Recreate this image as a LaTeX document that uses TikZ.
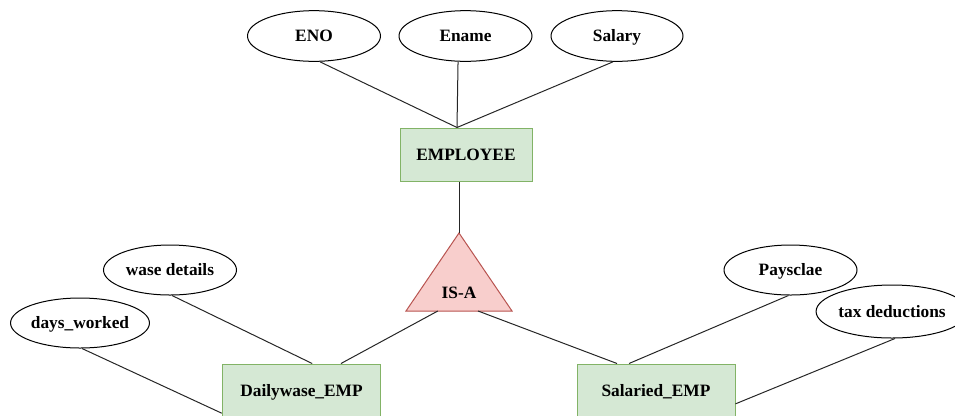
\documentclass[tikz,border=0pt]{standalone}
\usepackage{fontspec}
\setmainfont{Liberation Serif}
\usetikzlibrary{shapes.geometric,calc}
\definecolor{entfill}{HTML}{D5E8D4}
\definecolor{entdraw}{HTML}{82B366}
\definecolor{isafill}{HTML}{F8CECC}
\definecolor{isadraw}{HTML}{B85450}
\tikzset{
  lbl/.style={font=\bfseries\fontsize{13}{15}\selectfont, text height=8.6pt, text depth=0pt},
  attr/.style={lbl, ellipse, draw=black, line width=0.75pt, fill=white,
    minimum width=99.75pt, minimum height=38pt, inner sep=0pt},
  entity/.style={lbl, rectangle, draw=entdraw, fill=entfill, line width=0.75pt,
    minimum height=39.75pt, inner sep=0pt},
  link/.style={line width=0.75pt, draw=black!85},
  isabox/.style={draw=isadraw, fill=isafill, line width=0.75pt, line join=miter}
}
\begin{document}
\begin{tikzpicture}[x=0.75pt, y=-0.75pt]
\useasboundingbox (0,0) rectangle (955,415);
% attributes of EMPLOYEE
\node[attr] (eno) at (314,36) {ENO};
\node[attr] (ename) at (465.5,36) {Ename};
\node[attr, minimum width=99pt] (salary) at (617,36) {Salary};
% entities
\node[entity, minimum width=99pt] (emp) at (466,154.5) {EMPLOYEE};
\node[entity, minimum width=119pt] (dw) at (301.5,390.5) {Dailywase\_EMP};
\node[entity, minimum width=118.5pt] (se) at (656,390.5) {Salaried\_EMP};
% other attributes
\node[attr, minimum height=37.5pt] (wase) at (170,270) {wase details};
\node[attr, minimum width=100.5pt, minimum height=37.5pt] (days) at (80,323) {days\_worked};
\node[attr, minimum height=37.5pt] (pay) at (790.5,270) {Paysclae};
\node[attr, minimum width=97.5pt, minimum height=39.75pt] (tax) at (892,311.5) {tax deductions};
% IS-A triangle
\coordinate (isatop) at (459,233);
\coordinate (isabl) at (406,311);
\coordinate (isabr) at (512,311);
\draw[isabox] (isatop) -- (isabr) -- (isabl) -- cycle;
\node[lbl] (isa) at (459,293) {IS-A};
% connectors
\coordinate (empin) at ([xshift=-6.75pt]emp.north);
\draw[link] ([xshift=4.5pt]eno.south) -- (empin);
\draw[link] ([xshift=-5.6pt]ename.south) -- (empin);
\draw[link] ([xshift=-3pt]salary.south) -- (empin);
\draw[link] (isatop) -- (isatop |- emp.south);
\coordinate (isaoutl) at ($(isabl)!0.3!(isabr)$);
\coordinate (isaoutr) at ($(isabl)!0.68!(isabr)$);
\draw[link] (isaoutl) -- ([xshift=29.6pt]dw.north);
\draw[link] (isaoutr) -- ([xshift=-29.25pt]se.north);
\draw[link] ([xshift=1.5pt]wase.south) -- ([xshift=8pt]dw.north);
\draw[link] ([xshift=1.5pt]days.south) -- ([yshift=-17pt]dw.west);
\draw[link] ([xshift=-1.5pt]pay.south) -- ([xshift=-20.25pt]se.north);
\draw[link] ([xshift=2.25pt]tax.south) -- ([yshift=-10pt]se.east);
\end{tikzpicture}
\end{document}
